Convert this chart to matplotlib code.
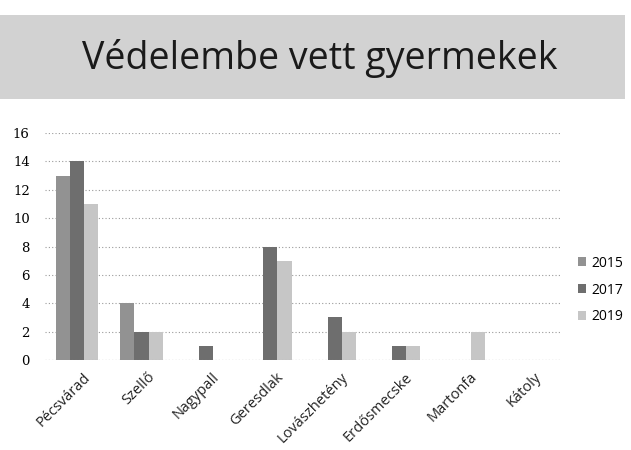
import matplotlib
matplotlib.use("Agg")
import matplotlib.pyplot as plt
import matplotlib.transforms as mtransforms
import numpy as np
from matplotlib.patches import Rectangle

categories = ["Pécsvárad", "Szellő", "Nagypall", "Geresdlak", "Lovászhetény",
              "Erdősmecske", "Martonfa", "Kátoly"]
series_names = ["2015", "2017", "2019"]
v2015 = [13, 4, 0, 0, 0, 0, 0, 0]
v2017 = [14, 2, 1, 8, 3, 1, 0, 0]
v2019 = [11, 2, 0, 7, 2, 1, 2, 0]
yticks = [0, 2, 4, 6, 8, 10, 12, 14, 16]
title = "Védelembe vett gyermekek"

colors = ["#929292", "#6e6e6e", "#c6c6c6"]

fig = plt.figure(figsize=(6.31, 4.5), dpi=100)
fig.patch.set_facecolor("white")

# title banner
fig.patches.append(Rectangle((0.0, 1 - 99/450), 625/631, 84/450,
                             transform=fig.transFigure, facecolor="#d2d2d2",
                             edgecolor="none", zorder=0))
fig.text(320/631, 1 - 58/450, title, ha="center", va="center",
         fontsize=27, family="Open Sans", color="#1a1a1a")

ax = fig.add_axes([45/631, 1 - 360/450, 515/631, 227/450])
x = np.arange(len(categories))
w = 0.22
for i, (vals, c, name) in enumerate(zip([v2015, v2017, v2019], colors, series_names)):
    ax.bar(x + (i - 1) * w, vals, width=w, color=c, label=name, zorder=2)

ax.set_xlim(-0.5, len(categories) - 0.5)
ax.set_ylim(0, 16)
ax.set_yticks(yticks)
ax.set_yticklabels([str(t) for t in yticks], fontsize=9.5, family="DejaVu Serif")
ax.yaxis.grid(True, linestyle=(0, (1, 2)), color="#9a9a9a", linewidth=0.8, zorder=0)
ax.set_axisbelow(True)
for s in ax.spines.values():
    s.set_visible(False)
ax.tick_params(axis="both", length=0)
ax.tick_params(axis="y", pad=11)
ax.tick_params(axis="x", pad=7)
ax.set_xticks(x)
ax.set_xticklabels(categories, rotation=45, ha="right", rotation_mode="anchor",
                   fontsize=10.5, family="Open Sans", color="#222222")
offset = mtransforms.ScaledTranslation(6/100, 0, fig.dpi_scale_trans)
for lab in ax.get_xticklabels():
    lab.set_transform(lab.get_transform() + offset)
ax.axhline(0, color="#9a9a9a", linestyle=(0, (1, 2)), linewidth=0.8)

leg = fig.legend(loc="center left", bbox_to_anchor=(578/631, 1 - 290/450),
                 frameon=False, handlelength=0.6, handleheight=0.6,
                 handletextpad=0.35, labelspacing=0.85, borderpad=0,
                 borderaxespad=0,
                 prop={"family": "Open Sans", "size": 10})

fig.savefig("out.png", dpi=100)
